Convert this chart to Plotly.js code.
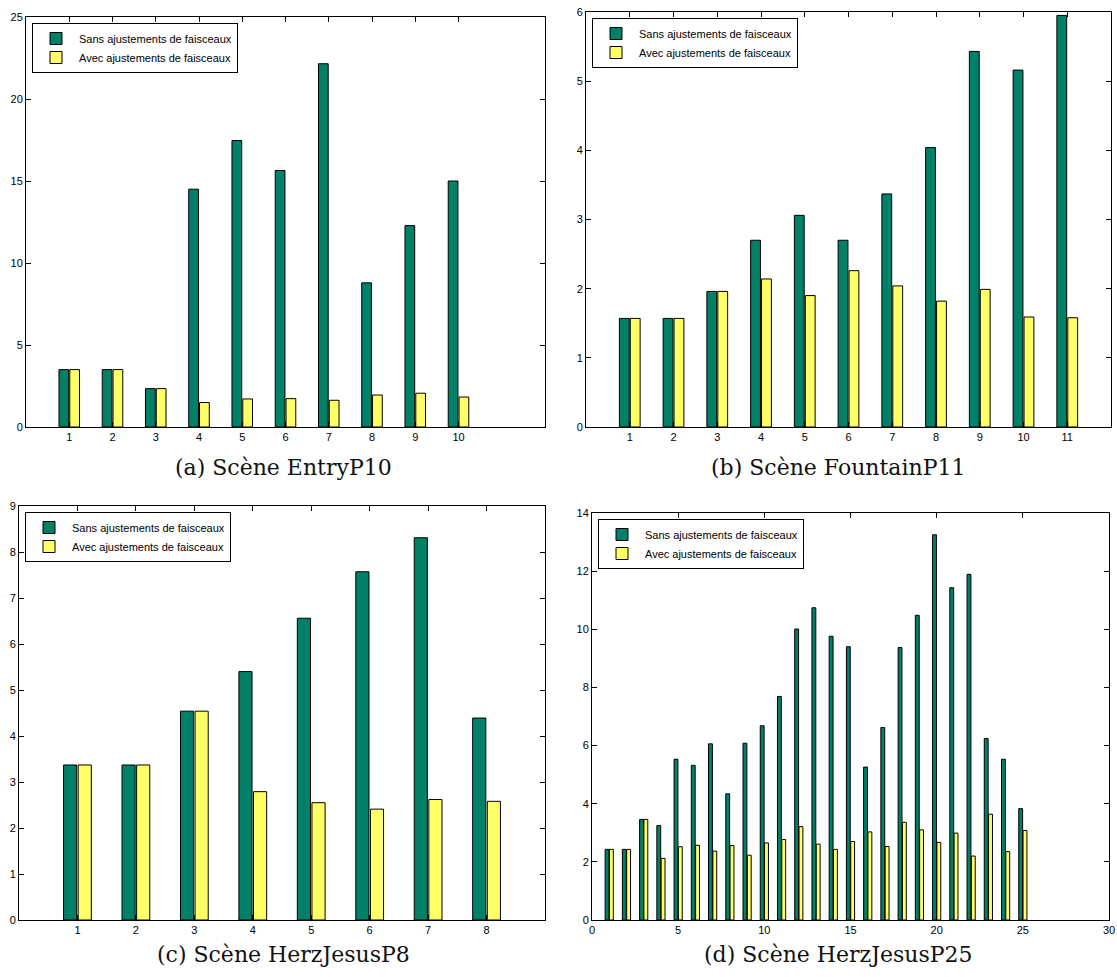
<!DOCTYPE html>
<html>
<head>
<meta charset="utf-8">
<script src="https://cdn.plot.ly/plotly-3.0.1.min.js"></script>
<style>html,body{margin:0;padding:0;background:#fff;}#chart{width:1117px;height:977px;}</style>
</head>
<body>
<div id="chart"></div>
<script>
// ---- Data ----
const seriesNames = ["Sans ajustements de faisceaux", "Avec ajustements de faisceaux"];

const entryX = [1, 2, 3, 4, 5, 6, 7, 8, 9, 10];
const entrySans = [3.50, 3.50, 2.34, 14.50, 17.47, 15.64, 22.15, 8.79, 12.28, 15.00];
const entryAvec = [3.50, 3.50, 2.34, 1.49, 1.71, 1.73, 1.63, 1.95, 2.06, 1.83];

const fountainX = [1, 2, 3, 4, 5, 6, 7, 8, 9, 10, 11];
const fountainSans = [1.57, 1.57, 1.96, 2.70, 3.06, 2.70, 3.37, 4.04, 5.43, 5.16, 5.95];
const fountainAvec = [1.57, 1.57, 1.96, 2.14, 1.90, 2.26, 2.04, 1.82, 1.99, 1.59, 1.58];

const herz8X = [1, 2, 3, 4, 5, 6, 7, 8];
const herz8Sans = [3.37, 3.37, 4.54, 5.40, 6.56, 7.57, 8.31, 4.39];
const herz8Avec = [3.37, 3.37, 4.54, 2.79, 2.55, 2.41, 2.62, 2.58];

const herz25X = [1,2,3,4,5,6,7,8,9,10,11,12,13,14,15,16,17,18,19,20,21,22,23,24,25];
const herz25Sans = [2.43, 2.43, 3.46, 3.25, 5.53, 5.32, 6.06, 4.34, 6.08, 6.68, 7.69, 10.01, 10.74, 9.76, 9.40, 5.26, 6.62, 9.37, 10.48, 13.25, 11.43, 11.89, 6.24, 5.53, 3.83];
const herz25Avec = [2.43, 2.43, 3.46, 2.12, 2.52, 2.57, 2.37, 2.56, 2.23, 2.65, 2.77, 3.21, 2.61, 2.43, 2.70, 3.03, 2.53, 3.36, 3.10, 2.67, 2.99, 2.20, 3.64, 2.35, 3.08];

const captions = ["(a) Scène EntryP10", "(b) Scène FountainP11", "(c) Scène HerzJesusP8", "(d) Scène HerzJesusP25"];

// ---- Styles ----
const GREEN = "rgb(0,128,102)";
const YELLOW = "rgb(255,255,102)";

const panels = [
  {x: entryX, a: entrySans, b: entryAvec, ax: "", leg: "legend"},
  {x: fountainX, a: fountainSans, b: fountainAvec, ax: "2", leg: "legend2"},
  {x: herz8X, a: herz8Sans, b: herz8Avec, ax: "3", leg: "legend3"},
  {x: herz25X, a: herz25Sans, b: herz25Avec, ax: "4", leg: "legend4"}
];

const traces = [];
panels.forEach(p => {
  traces.push({type: "bar", x: p.x, y: p.a, name: seriesNames[0], xaxis: "x" + p.ax, yaxis: "y" + p.ax, legend: p.leg,
    marker: {color: GREEN, line: {color: "#000", width: 1}}, hoverinfo: "x+y"});
  traces.push({type: "bar", x: p.x, y: p.b, name: seriesNames[1], xaxis: "x" + p.ax, yaxis: "y" + p.ax, legend: p.leg,
    marker: {color: YELLOW, line: {color: "#000", width: 1}}, hoverinfo: "x+y"});
});

const W = 1117, H = 977;
function dx(a, b) { return [a / W, b / W]; }
function dy(top, bottom) { return [1 - bottom / H, 1 - top / H]; }

const tickFont = {family: "Liberation Sans, Arial, sans-serif", size: 11, color: "#000"};
function xax(domain, range, tickvals, anchor) {
  return {domain: domain, range: range, tickvals: tickvals, ticks: "inside", ticklen: 5, tickcolor: "#000",
    showline: true, linecolor: "#000", linewidth: 1, mirror: "ticks", showgrid: false, zeroline: false,
    tickfont: tickFont, anchor: anchor, fixedrange: true};
}
function yax(domain, range, dtick, anchor) {
  return {domain: domain, range: range, dtick: dtick, tick0: 0, ticks: "inside", ticklen: 5, tickcolor: "#000",
    showline: true, linecolor: "#000", linewidth: 1, mirror: "ticks", showgrid: false, zeroline: false,
    tickfont: tickFont, anchor: anchor, fixedrange: true};
}
function legend(x, y) {
  return {x: x / W, y: 1 - y / H, xanchor: "left", yanchor: "top", bgcolor: "#fff", bordercolor: "#000", borderwidth: 1,
    font: {family: "Liberation Sans, Arial, sans-serif", size: 11, color: "#000"}, tracegroupgap: 0, itemwidth: 36};
}

const captionFont = {family: "DejaVu Serif, serif", size: 22, color: "#111"};
const layout = {
  width: W, height: H,
  margin: {l: 0, r: 0, t: 0, b: 0},
  paper_bgcolor: "#fff", plot_bgcolor: "#fff",
  barmode: "group", bargap: 0.5, bargroupgap: 0.1,
  showlegend: true,
  xaxis: xax(dx(26, 545), [0, 12], entryX, "y"),
  yaxis: yax(dy(17, 427), [0, 25], 5, "x"),
  xaxis2: xax(dx(586, 1111), [0, 12], fountainX, "y2"),
  yaxis2: yax(dy(12, 427), [0, 6], 1, "x2"),
  xaxis3: xax(dx(19, 545), [0, 9], herz8X, "y3"),
  yaxis3: yax(dy(506, 920), [0, 9], 1, "x3"),
  xaxis4: Object.assign(xax(dx(592, 1109), [0, 30], null, "y4"), {tickvals: undefined, dtick: 5, tick0: 0}),
  yaxis4: yax(dy(513, 920), [0, 14], 2, "x4"),
  legend: legend(32, 23),
  legend2: legend(592, 18),
  legend3: legend(25, 512),
  legend4: legend(598, 519),
  annotations: [
    {text: captions[0], x: 283 / W, y: 1 - 467 / H, xref: "paper", yref: "paper", showarrow: false, font: captionFont, xanchor: "center", yanchor: "middle"},
    {text: captions[1], x: 838 / W, y: 1 - 467 / H, xref: "paper", yref: "paper", showarrow: false, font: captionFont, xanchor: "center", yanchor: "middle"},
    {text: captions[2], x: 283 / W, y: 1 - 954 / H, xref: "paper", yref: "paper", showarrow: false, font: captionFont, xanchor: "center", yanchor: "middle"},
    {text: captions[3], x: 838 / W, y: 1 - 954 / H, xref: "paper", yref: "paper", showarrow: false, font: captionFont, xanchor: "center", yanchor: "middle"}
  ]
};

Plotly.newPlot("chart", traces, layout, {displayModeBar: false, staticPlot: true});
</script>
</body>
</html>
